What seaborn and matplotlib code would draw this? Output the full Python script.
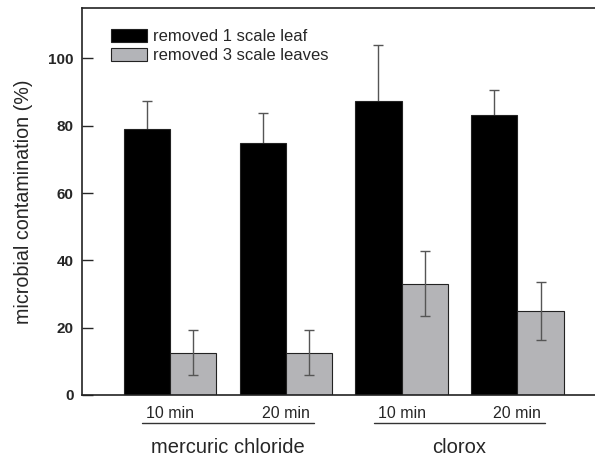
import pandas as pd
import matplotlib
matplotlib.use("Agg")
import matplotlib.pyplot as plt
import seaborn as sns
from matplotlib.patches import Patch

# values
conditions = ["mercuric chloride 10 min", "mercuric chloride 20 min", "clorox 10 min", "clorox 20 min"]
time_labels = ["10 min", "20 min", "10 min", "20 min"]
treatments = ["mercuric chloride", "clorox"]
one_leaf = [79.0, 74.8, 87.4, 83.3]
one_leaf_err = [8.5, 8.9, 16.6, 7.4]
three_leaves = [12.5, 12.5, 33.1, 24.9]
three_leaves_err = [6.7, 6.7, 9.6, 8.7]
series = ["removed 1 scale leaf", "removed 3 scale leaves"]

data = pd.DataFrame({
    "condition": conditions * 2,
    "value": one_leaf + three_leaves,
    "series": [series[0]] * 4 + [series[1]] * 4,
})

sns.set_theme(style="white")
plt.rcParams["font.family"] = ["Liberation Sans", "DejaVu Sans"]

colors = {series[0]: "#000000", series[1]: "#b3b4b8"}

fig = plt.figure(figsize=(5.95, 4.58), dpi=100)
ax = fig.add_axes([0.138, 0.1376, 0.862, 0.845])

sns.barplot(
    data=data, x="condition", y="value", hue="series",
    hue_order=series, order=conditions, palette=colors,
    errorbar=None, width=0.8, edgecolor="#222222", linewidth=0.8,
    legend=False, ax=ax,
)

# error bars: behind the black bars (only the upper half shows), in front of the gray ones
for cont, err, z in zip(ax.containers, [one_leaf_err, three_leaves_err], [0.5, 3]):
    xs = [p.get_x() + p.get_width() / 2 for p in cont]
    ys = [p.get_height() for p in cont]
    ax.errorbar(xs, ys, yerr=err, fmt="none", ecolor="#555555",
                elinewidth=1.0, capsize=3.5, capthick=1.0, zorder=z)

ax.set_ylim(0, 115)
ax.set_xlim(-0.76, 3.67)
ax.set_yticks([0, 20, 40, 60, 80, 100])
ax.tick_params(axis="y", direction="in", length=8, width=1, labelsize=11, pad=6, left=True)
ax.tick_params(axis="x", length=0, labelsize=11.5, pad=8)
ax.set_xticks(range(4))
ax.set_xticklabels(time_labels)
for lab in ax.get_yticklabels():
    lab.set_fontweight("bold")
ax.set_xlabel("")
ax.set_ylabel("microbial contamination (%)", fontsize=14.2, labelpad=11)

for side in ["left", "bottom", "top"]:
    ax.spines[side].set_color("#222222")
    ax.spines[side].set_linewidth(1.2)
ax.spines["right"].set_visible(False)

# grouping lines and treatment labels under the time labels
trans = ax.get_xaxis_transform()
for i, name in enumerate(treatments):
    center = 2 * i + 0.5
    ax.plot([center - 0.74, center + 0.74], [-0.073, -0.073], color="#333333",
            lw=1.0, transform=trans, clip_on=False)
    ax.text(center, -0.135, name, transform=trans, ha="center", va="center", fontsize=14.5)

handles = [Patch(facecolor=colors[s], edgecolor="#222222", linewidth=0.8) for s in series]
ax.legend(handles, series, loc="upper left", bbox_to_anchor=(0.044, 0.963), frameon=False,
          fontsize=12, handlelength=2.15, handleheight=0.85, labelspacing=0.22,
          handletextpad=0.35, borderaxespad=0)

fig.savefig("out.png", dpi=100)
